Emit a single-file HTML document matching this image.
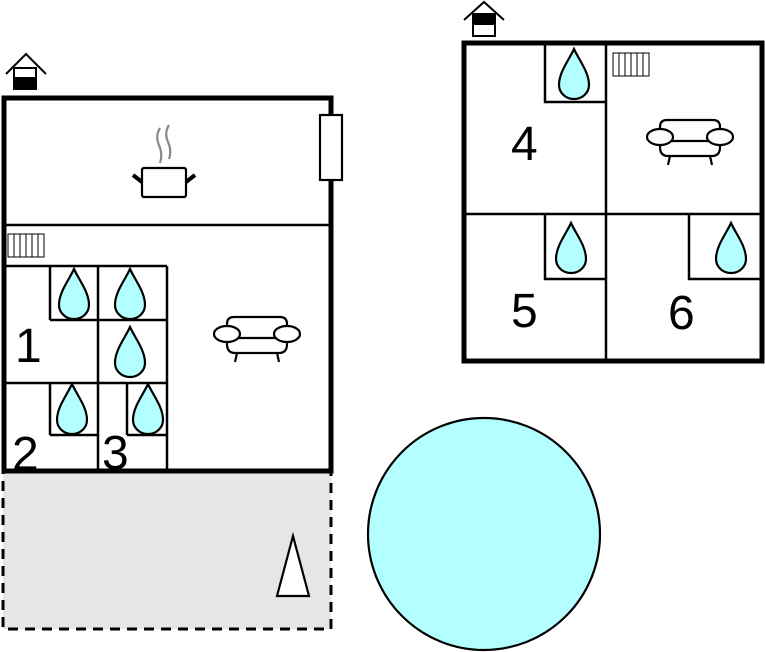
<!DOCTYPE html>
<html><head><style>html,body{margin:0;padding:0;background:#fff;}svg{display:block;}</style></head>
<body>
<svg width="765" height="652" viewBox="0 0 765 652" xmlns="http://www.w3.org/2000/svg">
<defs>
<path id="drop" d="M0,-25 C-5,-14 -15,-2 -15,11 A15,14 0 0 0 15,11 C15,-2 5,-14 0,-25Z" fill="#b3ffff" stroke="#000" stroke-width="2.2"/>
<g id="sofa" fill="#fff" stroke="#000" stroke-width="2.2">
<path d="M-30,4 L-30,-10 Q-30,-17 -23,-17 L23,-17 Q30,-17 30,-10 L30,4"/>
<path d="M-26,4 L26,4 Q30,4 30,10 Q30,19 22,19 L-22,19 Q-30,19 -30,10 Q-30,4 -26,4Z"/>
<ellipse cx="-30" cy="0" rx="13" ry="8"/>
<ellipse cx="30" cy="0" rx="13" ry="8"/>
<line x1="-20" y1="19" x2="-22" y2="28"/><line x1="20" y1="19" x2="22" y2="28"/>
</g>
<g id="rad" fill="#fff" stroke="#000" stroke-width="1">
<rect x="0" y="0" width="36" height="23"/>
<line x1="6" y1="0" x2="6" y2="23"/><line x1="12" y1="0" x2="12" y2="23"/><line x1="18" y1="0" x2="18" y2="23"/><line x1="24" y1="0" x2="24" y2="23"/><line x1="30" y1="0" x2="30" y2="23"/>
</g>
</defs>

<rect x="3" y="471" width="328" height="158" fill="#e6e6e6" stroke="#000" stroke-width="3" stroke-dasharray="10,7"/>
<polygon points="293,536 277,596 309,596" fill="#fff" stroke="#000" stroke-width="2.2"/>

<circle cx="484" cy="534" r="116" fill="#b3ffff" stroke="#000" stroke-width="2.2"/>

<rect x="4" y="98" width="327" height="373" fill="#fff" stroke="#000" stroke-width="5"/>
<line x1="4" y1="225" x2="331" y2="225" stroke="#000" stroke-width="2.5"/>
<rect x="320" y="115" width="22" height="65" fill="#fff" stroke="#000" stroke-width="2.2"/>
<g stroke="#000" fill="#fff">
<rect x="142" y="168" width="44" height="29" rx="2" stroke-width="2.2"/>
<line x1="142" y1="182" x2="133" y2="175" stroke-width="4"/>
<line x1="186" y1="182" x2="195" y2="175" stroke-width="4"/>
<path d="M160,128 Q155,136 159,145 Q163,154 160,163" fill="none" stroke="#888" stroke-width="2.2"/>
<path d="M169,125 Q164,133 168,142 Q172,151 169,159" fill="none" stroke="#888" stroke-width="2.2"/>
</g>
<use href="#rad" x="8" y="234"/>
<g stroke="#000" stroke-width="2.5" fill="none">
<line x1="4" y1="266" x2="167" y2="266"/>
<line x1="167" y1="266" x2="167" y2="470"/>
<line x1="98" y1="266" x2="98" y2="470"/>
<line x1="50" y1="266" x2="50" y2="320"/>
<line x1="50" y1="320" x2="167" y2="320"/>
<line x1="4" y1="383" x2="167" y2="383"/>
<line x1="50" y1="383" x2="50" y2="435"/>
<line x1="50" y1="435" x2="98" y2="435"/>
<line x1="127" y1="383" x2="127" y2="435"/>
<line x1="127" y1="435" x2="167" y2="435"/>
</g>
<use href="#drop" x="74" y="294"/>
<use href="#drop" x="130" y="294"/>
<use href="#drop" x="130" y="352"/>
<use href="#drop" x="72" y="409"/>
<use href="#drop" x="148" y="409"/>
<g font-family="Liberation Sans, sans-serif" font-size="48" fill="#000">
<text x="15" y="362">1</text>
<text x="12" y="470">2</text>
<text x="102" y="469">3</text>
</g>
<use href="#sofa" x="257" y="334"/>
<g stroke="#000" stroke-width="2" fill="none">
<polyline points="6,74 26,54 46,74"/>
<rect x="14" y="68" width="22" height="21" fill="#fff"/>
<rect x="14" y="78" width="22" height="11" fill="#000"/>
</g>

<rect x="464" y="43" width="298" height="318" fill="#fff" stroke="#000" stroke-width="5"/>
<g stroke="#000" stroke-width="2.5" fill="none">
<line x1="606" y1="43" x2="606" y2="361"/>
<line x1="464" y1="214" x2="762" y2="214"/>
<polyline points="545,43 545,102 606,102"/>
<polyline points="545,214 545,279 606,279"/>
<polyline points="689,214 689,279 762,279"/>
</g>
<use href="#drop" x="574" y="74"/>
<use href="#drop" x="571" y="248"/>
<use href="#drop" x="731" y="248"/>
<use href="#rad" x="613" y="53"/>
<use href="#sofa" x="690" y="137"/>
<g font-family="Liberation Sans, sans-serif" font-size="48" fill="#000">
<text x="511" y="160">4</text>
<text x="511" y="327">5</text>
<text x="668" y="329">6</text>
</g>
<g stroke="#000" stroke-width="2" fill="none">
<polyline points="464,20 484,2 504,20"/>
<rect x="473" y="14" width="22" height="22" fill="#fff"/>
<rect x="473" y="14" width="22" height="10" fill="#000"/>
</g>
</svg>
</body></html>
